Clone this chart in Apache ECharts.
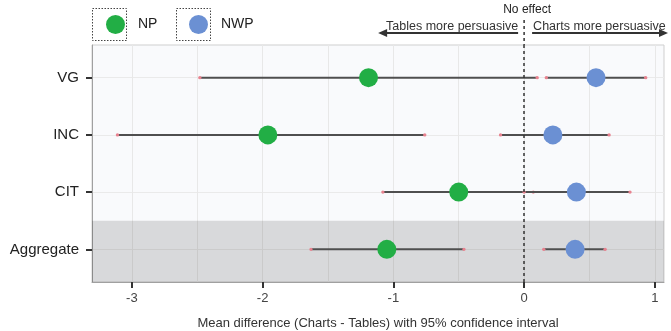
<!DOCTYPE html>
<html>
<head>
<meta charset="utf-8">
<script src="https://cdn.jsdelivr.net/npm/echarts@6/dist/echarts.min.js"></script>
<style>html,body{margin:0;padding:0;background:#fff;}#c{width:671px;height:331px;}</style>
</head>
<body>
<div id="c"></div>
<script>
const categories = ['VG', 'INC', 'CIT', 'Aggregate'];
const npMean  = [-1.19, -1.96, -0.50, -1.05];
const npLow   = [-2.48, -3.11, -1.08, -1.63];
const npHigh  = [0.10, -0.76, 0.07, -0.46];
const nwpMean = [0.55, 0.22, 0.40, 0.39];
const nwpLow  = [0.17, -0.18, 0.00, 0.15];
const nwpHigh = [0.93, 0.65, 0.81, 0.62];
const xTicks = [-3, -2, -1, 0, 1];
const xGrid = [-3, -2.5, -2, -1.5, -1, -0.5, 0, 0.5, 1];
const seriesNames = ['NP', 'NWP'];
const xTitle = 'Mean difference (Charts - Tables) with 95% confidence interval';

const FONT = '"Liberation Sans", Arial, Helvetica, sans-serif';
const GREEN = '#22ae45';
const BLUE = '#6b90d3';
const XMIN = -3.305, XMAX = 1.07, YMIN = -0.57, YMAX = 3.57;

function ciData(lo, hi) { return lo.map((v, i) => [v, hi[i], i]); }
function meanData(m) { return m.map((v, i) => [v, i]); }

function renderCI(params, api) {
  const y = api.value(2);
  const a = api.coord([api.value(0), y]);
  const b = api.coord([api.value(1), y]);
  return {
    type: 'group',
    children: [
      { type: 'line', shape: { x1: a[0], y1: a[1], x2: b[0], y2: b[1] }, style: { stroke: '#4f4f4f', lineWidth: 2 } },
      { type: 'circle', shape: { cx: a[0], cy: a[1], r: 1.7 }, style: { fill: '#e8828f' } },
      { type: 'circle', shape: { cx: b[0], cy: b[1], r: 1.7 }, style: { fill: '#e8828f' } }
    ]
  };
}

const chart = echarts.init(document.getElementById('c'), null, { renderer: 'canvas' });
chart.setOption({
  animation: false,
  textStyle: { fontFamily: FONT },
  grid: { left: 92, right: 7, top: 45, bottom: 49, containLabel: false, outerBoundsMode: 'none',
    show: true, backgroundColor: '#f9fafc', borderColor: '#cfcfcf', borderWidth: 1 },
  legend: [
    { data: [seriesNames[0]], left: 101, top: 10, itemWidth: 19, itemHeight: 19, icon: 'circle',
      textStyle: { fontSize: 14, color: '#222', fontFamily: FONT, padding: [0, 0, 0, 8] } },
    { data: [seriesNames[1]], left: 184, top: 10, itemWidth: 19, itemHeight: 19, icon: 'circle',
      textStyle: { fontSize: 14, color: '#222', fontFamily: FONT, padding: [0, 0, 0, 8] } }
  ],
  xAxis: [
    { type: 'value', min: XMIN, max: XMAX, position: 'bottom',
      name: xTitle, nameLocation: 'middle', nameGap: 35,
      nameTextStyle: { fontSize: 13, color: '#333', fontFamily: FONT },
      axisLine: { show: true, onZero: false, lineStyle: { color: '#a0a0a0', width: 1 } },
      axisTick: { show: true, length: 6, customValues: xTicks, lineStyle: { color: '#333', width: 2 } },
      axisLabel: { customValues: xTicks, fontSize: 13, color: '#444', margin: 10, fontFamily: FONT,
        formatter: v => String(v) },
      splitLine: { show: false } },
    { type: 'value', min: XMIN, max: XMAX, position: 'top', show: true,
      axisLine: { show: false, onZero: false }, axisLabel: { show: false },
      axisTick: { show: false, customValues: xGrid },
      splitLine: { show: true, lineStyle: { color: '#e8e8e8', width: 1 } } }
  ],
  yAxis: {
    type: 'value', min: YMIN, max: YMAX, inverse: true, position: 'left',
    axisLine: { show: true, onZero: false, lineStyle: { color: '#a0a0a0', width: 1 } },
    axisTick: { show: true, length: 6, customValues: [0, 1, 2, 3], lineStyle: { color: '#333', width: 2 } },
    axisLabel: { customValues: [0, 1, 2, 3], fontSize: 15, color: '#222', margin: 13, fontFamily: FONT,
      formatter: v => categories[Math.round(v)] },
    splitLine: { show: true, lineStyle: { color: '#eaeaea', width: 1 } }
  },
  series: [
    { name: 'npCI', type: 'custom', renderItem: renderCI, data: ciData(npLow, npHigh), z: 3,
      markArea: { silent: true, itemStyle: { color: 'rgba(0,0,0,0.13)' },
        data: [[{ yAxis: 2.5 }, { yAxis: YMAX }]] },
      markLine: { silent: true, symbol: 'none', label: { show: false },
        lineStyle: { color: '#333', type: [3, 3], width: 1.5 }, data: [{ xAxis: 0 }] } },
    { name: 'nwpCI', type: 'custom', renderItem: renderCI, data: ciData(nwpLow, nwpHigh), z: 3 },
    { name: seriesNames[0], type: 'scatter', data: meanData(npMean), symbol: 'circle', symbolSize: 19,
      itemStyle: { color: GREEN, opacity: 1 }, z: 5 },
    { name: seriesNames[1], type: 'scatter', data: meanData(nwpMean), symbol: 'circle', symbolSize: 19,
      itemStyle: { color: BLUE, opacity: 1 }, z: 5 }
  ]
});

// annotations above the panel, anchored at the x = 0 position
const x0 = chart.convertToPixel({ xAxisIndex: 0 }, 0);
const arrowY = 33;
const leftTip = x0 - 146, rightTip = 668;
chart.setOption({
  graphic: [
    { type: 'rect', shape: { x: 92.5, y: 8.5, width: 34, height: 32 }, style: { fill: 'none', stroke: '#444', lineWidth: 1, lineDash: [1.5, 1.5] } },
    { type: 'rect', shape: { x: 176.5, y: 8.5, width: 34, height: 32 }, style: { fill: 'none', stroke: '#444', lineWidth: 1, lineDash: [1.5, 1.5] } },
    { type: 'text', x: x0 + 3, y: 10, style: { text: 'No effect', fontSize: 12, fill: '#222', fontFamily: FONT, align: 'center', verticalAlign: 'middle' } },
    { type: 'line', shape: { x1: x0, y1: 20, x2: x0, y2: 45 }, style: { stroke: '#333', lineWidth: 1.5, lineDash: [3, 3] } },
    { type: 'text', x: x0 - 6, y: 27, style: { text: 'Tables more persuasive', fontSize: 12.5, fill: '#333', fontFamily: FONT, align: 'right', verticalAlign: 'middle' } },
    { type: 'line', shape: { x1: leftTip + 6, y1: arrowY, x2: x0 - 6, y2: arrowY }, style: { stroke: '#333', lineWidth: 2 } },
    { type: 'polygon', shape: { points: [[leftTip, arrowY], [leftTip + 9, arrowY - 4], [leftTip + 9, arrowY + 4]] }, style: { fill: '#333' } },
    { type: 'text', x: x0 + 9, y: 27, style: { text: 'Charts more persuasive', fontSize: 12.5, fill: '#333', fontFamily: FONT, align: 'left', verticalAlign: 'middle' } },
    { type: 'line', shape: { x1: x0 + 8, y1: arrowY, x2: rightTip - 6, y2: arrowY }, style: { stroke: '#333', lineWidth: 2 } },
    { type: 'polygon', shape: { points: [[rightTip, arrowY], [rightTip - 9, arrowY - 4], [rightTip - 9, arrowY + 4]] }, style: { fill: '#333' } }
  ]
});
</script>
</body>
</html>
